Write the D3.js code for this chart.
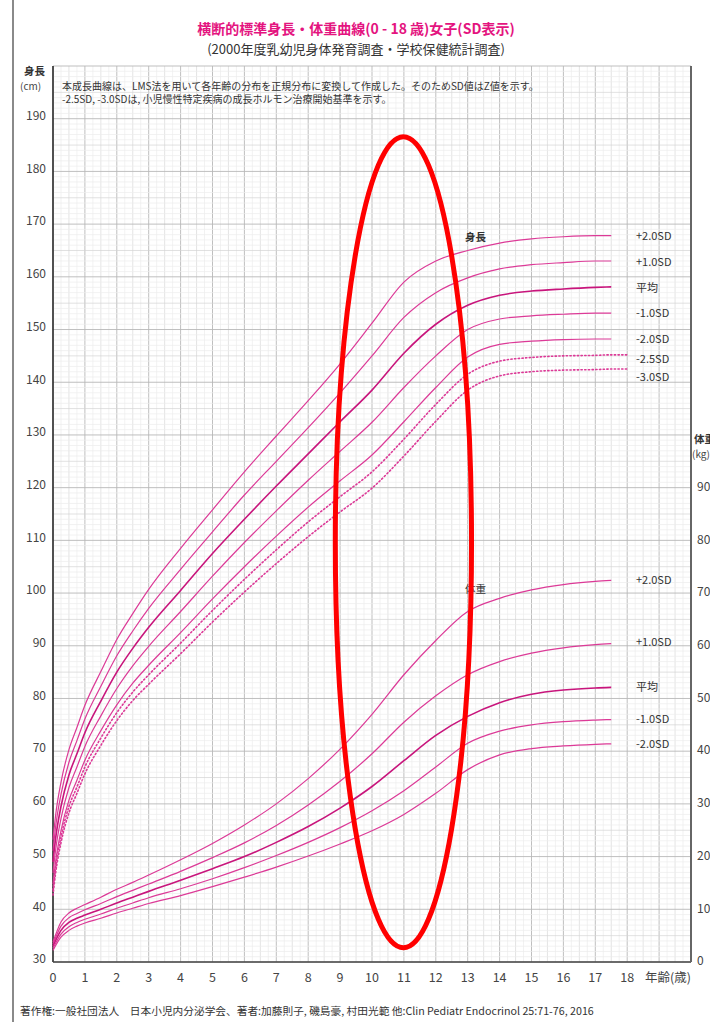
<!DOCTYPE html>
<html><head><meta charset="utf-8">
<script src="https://cdn.jsdelivr.net/npm/d3@7"></script>
<style>
body{margin:0;background:#fff;}
svg text{font-family:"Noto Sans CJK JP","Noto Sans",sans-serif;}
</style></head>
<body><svg id="c" width="710" height="1022"></svg>
<script>
// ---- data ----
const titleText = "横断的標準身長・体重曲線(0 - 18 歳)女子(SD表示)";
const subtitleText = "(2000年度乳幼児身体発育調査・学校保健統計調査)";
const noteLines = ["本成長曲線は、LMS法を用いて各年齢の分布を正規分布に変換して作成した。そのためSD値はZ値を示す。",
                   "-2.5SD, -3.0SDは, 小児慢性特定疾病の成長ホルモン治療開始基準を示す。"];
const footerText = "著作権:一般社団法人　日本小児内分泌学会、著者:加藤則子, 磯島豪, 村田光範 他:Clin Pediatr Endocrinol 25:71-76, 2016";

const ageTicks = [0,1,2,3,4,5,6,7,8,9,10,11,12,13,14,15,16,17,18];
const heightTicks = [30,40,50,60,70,80,90,100,110,120,130,140,150,160,170,180,190];
const weightTicks = [0,10,20,30,40,50,60,70,80,90];

const agesH = [0,0.083,0.25,0.5,0.75,1,1.5,2,2.5,3,4,5,6,7,8,9,10,11,12,13,14,15,16,17,17.5];
const agesHDot = [0,0.083,0.25,0.5,0.75,1,1.5,2,2.5,3,4,5,6,7,8,9,10,11,12,13,14,15,16,17,17.5,18];
const hP2 = [53.2,57.9,64.1,70.3,74.5,78.7,85.1,91.2,96.1,100.7,108.5,115.8,123.0,129.8,136.5,143.5,151.2,159.0,163.0,165.0,166.4,167.2,167.6,167.8,167.8];
const hP1 = [51.1,55.7,61.8,67.9,72.0,76.1,82.3,88.1,92.8,97.1,104.5,111.6,118.6,125.0,131.4,138.0,145.0,152.3,157.0,159.8,161.5,162.3,162.7,163.0,163.0];
const hMean = [49.0,53.5,59.5,65.5,69.5,73.5,79.5,85.0,89.5,93.5,100.5,107.5,114.0,120.3,126.4,132.5,138.5,145.5,151.0,154.6,156.5,157.3,157.7,158.0,158.1];
const hM1 = [46.9,51.3,57.2,63.1,67.0,70.9,76.7,81.9,86.2,89.9,96.5,103.2,109.6,115.6,121.4,126.9,132.4,139.0,145.0,150.0,152.0,152.6,152.9,153.1,153.1];
const hM2 = [44.8,49.1,54.9,60.7,64.5,68.3,73.9,78.8,82.9,86.3,92.5,98.9,105.0,110.8,116.3,121.3,126.2,132.5,139.0,144.8,147.2,147.8,148.1,148.2,148.2];
const hM25 = [43.7,48.0,53.7,59.5,63.2,67.0,72.5,77.3,81.2,84.5,90.5,96.7,102.6,108.2,113.5,118.3,123.0,129.2,135.8,141.5,144.0,144.7,145.0,145.1,145.2,145.2];
const hM3 = [42.7,46.9,52.6,58.3,62.0,65.7,71.1,75.8,79.6,82.7,88.5,94.5,100.2,105.6,110.7,115.4,119.9,126.0,132.6,138.5,141.2,142.0,142.3,142.4,142.5,142.5];

const agesW = [0,0.25,0.5,0.75,1,1.5,2,2.5,3,4,5,6,7,8,9,10,11,12,13,14,15,16,17,17.5];
const wP2 = [3.8,7.6,9.3,10.2,10.9,12.3,13.8,15.1,16.5,19.4,22.5,26.0,30.0,34.8,40.4,47.0,54.5,61.0,66.5,69.0,70.6,71.6,72.2,72.4];
const wP1 = [3.4,6.8,8.4,9.2,9.9,11.1,12.4,13.6,14.8,17.2,19.8,22.6,25.9,29.8,34.3,39.5,45.5,50.5,54.5,57.0,58.6,59.6,60.2,60.4];
const wMean = [3.0,6.0,7.5,8.3,8.9,10.0,11.2,12.3,13.4,15.5,17.7,20.0,22.7,25.7,29.2,33.3,38.2,43.0,46.6,49.2,50.8,51.6,52.0,52.1];
const wM1 = [2.6,5.3,6.7,7.5,8.1,9.1,10.2,11.2,12.2,13.9,15.8,17.9,20.2,22.7,25.5,28.7,32.5,37.0,41.5,43.8,45.0,45.6,45.9,46.0];
const wM2 = [2.2,4.7,6.0,6.8,7.4,8.3,9.3,10.2,11.1,12.6,14.3,16.1,18.0,20.1,22.4,24.9,28.0,32.0,36.5,39.3,40.5,41.0,41.3,41.4];

const heightSeries = [
  {label:"+2.0SD", ages:agesH, values:hP2, kind:"solid"},
  {label:"+1.0SD", ages:agesH, values:hP1, kind:"solid"},
  {label:"平均", ages:agesH, values:hMean, kind:"mean"},
  {label:"-1.0SD", ages:agesH, values:hM1, kind:"solid"},
  {label:"-2.0SD", ages:agesH, values:hM2, kind:"solid"},
  {label:"-2.5SD", ages:agesHDot, values:hM25, kind:"dot"},
  {label:"-3.0SD", ages:agesHDot, values:hM3, kind:"dot"}
];
const weightSeries = [
  {label:"+2.0SD", ages:agesW, values:wP2, kind:"solid"},
  {label:"+1.0SD", ages:agesW, values:wP1, kind:"solid"},
  {label:"平均", ages:agesW, values:wMean, kind:"mean"},
  {label:"-1.0SD", ages:agesW, values:wM1, kind:"solid"},
  {label:"-2.0SD", ages:agesW, values:wM2, kind:"solid"}
];
// label heights (cm scale) / weights (kg) at right
const heightLabelPos = [167.5,162.6,157.7,152.9,148.0,144.2,140.8];
const weightLabelPos = [72.3,60.5,52.0,45.9,41.1];
// red annotation ellipse (age range, height range)
const ellipseAge = [8.85, 13.12];
const ellipseHeight = [32.7, 186.6];

// ---- layout ----
const svg = d3.select("#c");
const L = 53, R = 691, T = 66, B = 962;
const x = d3.scaleLinear().domain([0,20]).range([L,R]);
const yH = d3.scaleLinear().domain([30,200]).range([B,T]);
const yW = d3.scaleLinear().domain([0,170]).range([B,T]);

// page border
svg.append("line").attr("x1",13).attr("x2",13).attr("y1",0).attr("y2",1022)
  .attr("stroke","#8a8a8a").attr("stroke-width",2);

// grid
const g = svg.append("g");
const minorX = d3.range(0,20.001,0.25);
const minorY = d3.range(30,200.001,1);
g.selectAll(".mx").data(minorX).join("line")
  .attr("x1",d=>x(d)).attr("x2",d=>x(d)).attr("y1",T).attr("y2",B)
  .attr("stroke",d=> Math.abs(d-Math.round(d))<1e-6 ? "#b8b8b8" : (Math.abs(d*2-Math.round(d*2))<1e-6 ? "#d8d8d8" : "#ececec"))
  .attr("stroke-width",d=> Math.abs(d-Math.round(d))<1e-6 ? 0.9 : 0.7);
g.selectAll(".my").data(minorY).join("line")
  .attr("x1",L).attr("x2",R).attr("y1",d=>yH(d)).attr("y2",d=>yH(d))
  .attr("stroke",d=> d%10===0 ? "#b8b8b8" : (d%5===0 ? "#d4d4d4" : "#ededed"))
  .attr("stroke-width",d=> d%10===0 ? 0.9 : 0.7);

// axes lines
svg.append("line").attr("x1",L).attr("x2",L).attr("y1",T).attr("y2",B).attr("stroke","#222").attr("stroke-width",1.5);
svg.append("line").attr("x1",L).attr("x2",R).attr("y1",B).attr("y2",B).attr("stroke","#444").attr("stroke-width",1.5);
svg.append("line").attr("x1",R).attr("x2",R).attr("y1",T).attr("y2",B).attr("stroke","#666").attr("stroke-width",2);

// tick labels
svg.append("g").selectAll("text").data(heightTicks).join("text")
  .attr("x",46).attr("y",d=>yH(d)-2).attr("text-anchor","end").attr("dominant-baseline","middle")
  .attr("font-size",12).attr("fill","#444").text(d=>d);
svg.append("g").selectAll("text").data(ageTicks).join("text")
  .attr("x",d=>x(d)).attr("y",979).attr("text-anchor","middle").attr("dominant-baseline","middle")
  .attr("font-size",12.5).attr("fill","#444").text(d=>d);
svg.append("g").selectAll("text").data(weightTicks).join("text")
  .attr("x",697).attr("y",d=>yW(d)).attr("text-anchor","start").attr("dominant-baseline","middle")
  .attr("font-size",12).attr("fill","#444").text(d=>d);
svg.append("text").attr("x",645).attr("y",979).attr("dominant-baseline","middle")
  .attr("font-size",12.5).attr("fill","#444").text("年齢(歳)");

// axis titles
svg.append("text").attr("x",24).attr("y",72).attr("dominant-baseline","middle")
  .attr("font-size",10.5).attr("font-weight","bold").attr("fill","#333").text("身長");
svg.append("text").attr("x",20).attr("y",87).attr("dominant-baseline","middle")
  .attr("font-size",10).attr("fill","#444").text("(cm)");
svg.append("text").attr("x",694).attr("y",440).attr("dominant-baseline","middle")
  .attr("font-size",10.5).attr("font-weight","bold").attr("fill","#333").text("体重");
svg.append("text").attr("x",692).attr("y",455).attr("dominant-baseline","middle")
  .attr("font-size",10).attr("fill","#444").text("(kg)");

// title
svg.append("text").attr("x",356).attr("y",30).attr("text-anchor","middle").attr("dominant-baseline","middle")
  .attr("font-size",14).attr("font-weight","bold").attr("fill","#e4147f").text(titleText);
svg.append("text").attr("x",356).attr("y",50).attr("text-anchor","middle").attr("dominant-baseline","middle")
  .attr("font-size",13).attr("fill","#333").text(subtitleText);

// note
svg.append("g").selectAll("text").data(noteLines).join("text")
  .attr("x",62).attr("y",(d,i)=>87+i*13).attr("dominant-baseline","middle")
  .attr("font-size",10).attr("fill","#333").text(d=>d);

// curves
const lineH = d3.line().x(d=>x(d[0])).y(d=>yH(d[1])).curve(d3.curveMonotoneX);
const lineW = d3.line().x(d=>x(d[0])).y(d=>yW(d[1])).curve(d3.curveMonotoneX);
function styleLine(sel){
  sel.attr("fill","none")
    .attr("stroke",d=>d.kind==="mean" ? "#c8157c" : "#dc3a97")
    .attr("stroke-width",d=>d.kind==="mean" ? 1.6 : (d.kind==="dot"?1.6:1.2))
    .attr("stroke-dasharray",d=>d.kind==="dot" ? "1.3,2.4" : null)
    .attr("stroke-linecap",d=>d.kind==="dot" ? "round" : "butt");
}
svg.append("g").selectAll("path").data(heightSeries).join("path")
  .attr("d",d=>lineH(d.ages.map((a,i)=>[a,d.values[i]]))).call(styleLine);
svg.append("g").selectAll("path").data(weightSeries).join("path")
  .attr("d",d=>lineW(d.ages.map((a,i)=>[a,d.values[i]]))).call(styleLine);

// series labels
svg.append("g").selectAll("text").data(heightSeries).join("text")
  .attr("x",636).attr("y",(d,i)=>yH(heightLabelPos[i])).attr("dominant-baseline","middle")
  .attr("font-size",11).attr("fill","#333").text(d=>d.label);
svg.append("g").selectAll("text").data(weightSeries).join("text")
  .attr("x",636).attr("y",(d,i)=>yW(weightLabelPos[i])).attr("dominant-baseline","middle")
  .attr("font-size",11).attr("fill","#333").text(d=>d.label);
svg.append("text").attr("x",465).attr("y",238).attr("dominant-baseline","middle")
  .attr("font-size",10.5).attr("font-weight","bold").attr("fill","#333").text("身長");
svg.append("text").attr("x",465).attr("y",590).attr("dominant-baseline","middle")
  .attr("font-size",10.5).attr("fill","#333").text("体重");

// footer
svg.append("text").attr("x",20).attr("y",1012).attr("dominant-baseline","middle")
  .attr("font-size",10.7).attr("fill","#333").text(footerText);

// red annotation ellipse
svg.append("ellipse")
  .attr("cx",(x(ellipseAge[0])+x(ellipseAge[1]))/2)
  .attr("cy",(yH(ellipseHeight[0])+yH(ellipseHeight[1]))/2)
  .attr("rx",(x(ellipseAge[1])-x(ellipseAge[0]))/2)
  .attr("ry",(yH(ellipseHeight[0])-yH(ellipseHeight[1]))/2)
  .attr("fill","none").attr("stroke","#ff0000").attr("stroke-width",5);
</script></body></html>
